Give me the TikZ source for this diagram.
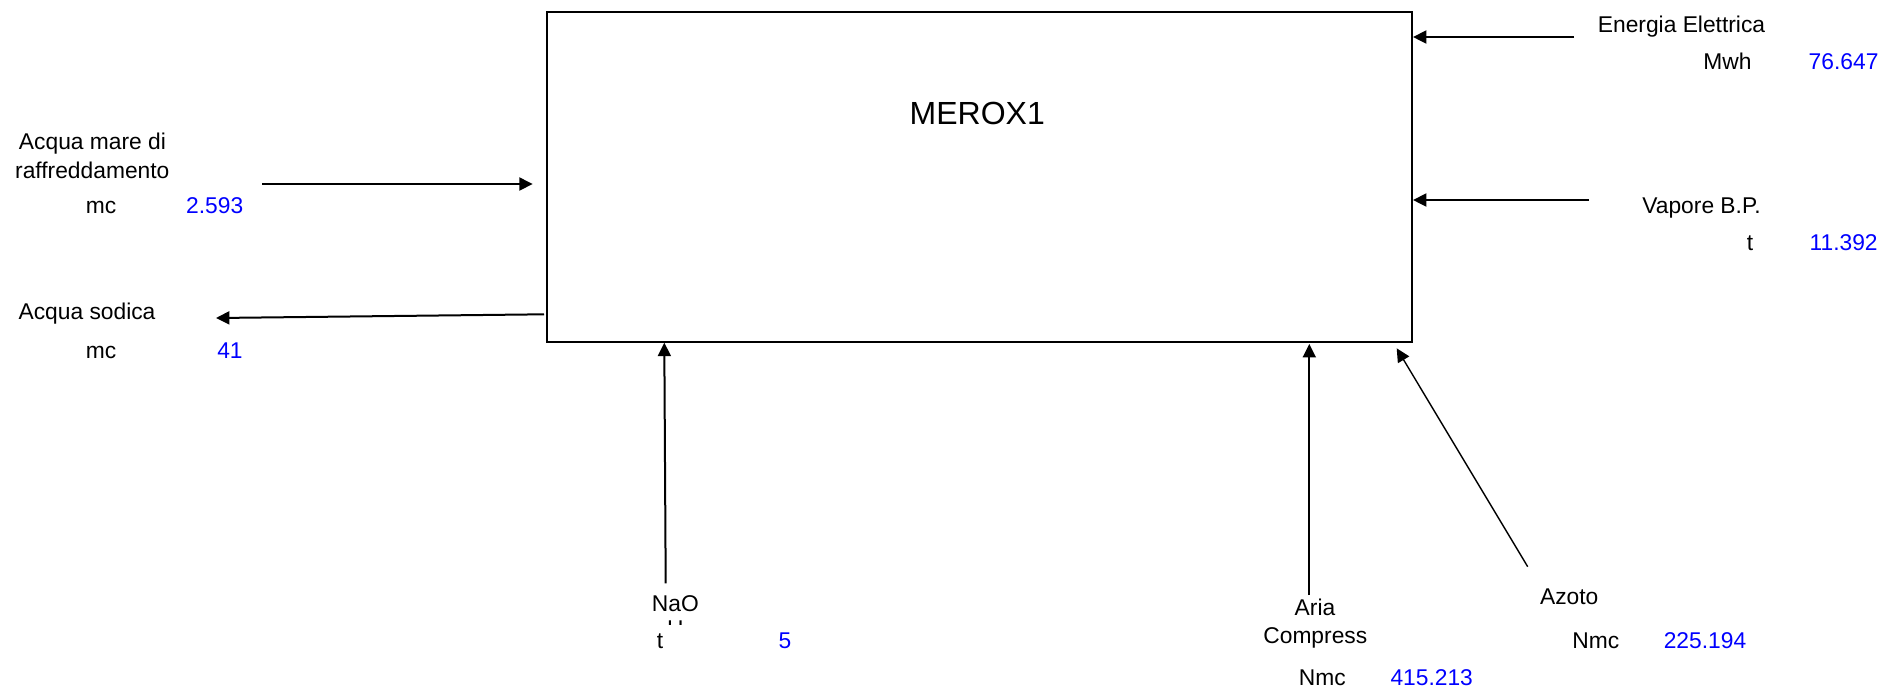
\documentclass[tikz,border=0pt]{standalone}
\usepackage{fontspec}
\setmainfont{Liberation Sans}
\usetikzlibrary{arrows.meta}
\definecolor{valblue}{RGB}{0,0,255}
\begin{document}
\begin{tikzpicture}[x=0.5pt,y=-0.5pt,
  lbl/.style={anchor=base,inner sep=0pt,font=\fontsize{11.4}{14}\selectfont},
  val/.style={lbl,text=valblue},
  flow/.style={line width=1pt,-{Triangle[length=6.7pt,width=6.5pt]}},
  ]
\useasboundingbox (0,0) rectangle (1887,693);
% main box
\node[draw,line width=1pt,minimum width=432.6pt,minimum height=164.7pt,inner sep=0pt] (box) at (979.1,177) {};
\node[anchor=base,inner sep=0pt,font=\fontsize{16}{19}\selectfont] (merox) at (977.3,124.3) {MEROX1};
% right labels
\node[lbl] (ee) at (1681.5,32.3) {Energia Elettrica};
\node[lbl] (eeu) at (1727.5,69.3) {Mwh};
\node[val] (eev) at (1843.6,69.3) {76.647};
\node[lbl] (vp) at (1701.5,213.3) {Vapore B.P.};
\node[lbl] (vpu) at (1750,250) {t};
\node[val] (vpv) at (1843.6,250) {11.392};
% left labels
\node[lbl] (am1) at (92.5,149.3) {Acqua mare di};
\node[lbl] (am2) at (92.3,178.3) {raffreddamento};
\node[lbl] (amu) at (101,213.3) {mc};
\node[val] (amv) at (214.7,213.3) {2.593};
\node[lbl] (as) at (87,319.3) {Acqua sodica};
\node[lbl] (asu) at (101,358.3) {mc};
\node[val] (asv) at (230,358.3) {41};
% bottom labels
\node[lbl] (nao) at (675.3,611) {NaO};
\begin{scope}
\clip (600,600) rectangle (750,624.5);
\node[lbl] (naoh) at (675.3,636.8) {H};
\end{scope}
\node[lbl] (naou) at (660,648) {t};
\node[val] (naov) at (785,648) {5};
\node[lbl] (ar1) at (1315,615) {Aria};
\node[lbl] (ar2) at (1315.3,643.3) {Compress};
\node[lbl] (aru) at (1322.3,685) {Nmc};
\node[val] (arv) at (1431.7,685) {415.213};
\node[lbl] (az) at (1569.2,604) {Azoto};
\node[lbl] (azu) at (1595.8,648.3) {Nmc};
\node[val] (azv) at (1705,648.3) {225.194};
% connector end points
\coordinate (eeS) at (1574,37);
\coordinate (eeT) at (1413,37);
\coordinate (vpS) at (1589,200);
\coordinate (vpT) at (1413,200);
\coordinate (amS) at (262.3,184);
\coordinate (amT) at (532.7,184);
\coordinate (asS) at (544,314.3);
\coordinate (asT) at (216,318);
\coordinate (naoS) at (665.7,583.3);
\coordinate (naoT) at (664.3,342.7);
\coordinate (arS) at (1309.3,595);
\coordinate (arT) at (1309.3,344);
\coordinate (azS) at (1527.7,566.7);
\coordinate (azT) at (1396.7,348.3);
% connectors
\draw[flow] (eeS) -- (eeT);
\draw[flow] (vpS) -- (vpT);
\draw[flow] (amS) -- (amT);
\draw[flow] (asS) -- (asT);
\draw[flow] (naoS) -- (naoT);
\draw[flow] (arS) -- (arT);
\draw[flow,line width=0.7pt] (azS) -- (azT);
\end{tikzpicture}
\end{document}
